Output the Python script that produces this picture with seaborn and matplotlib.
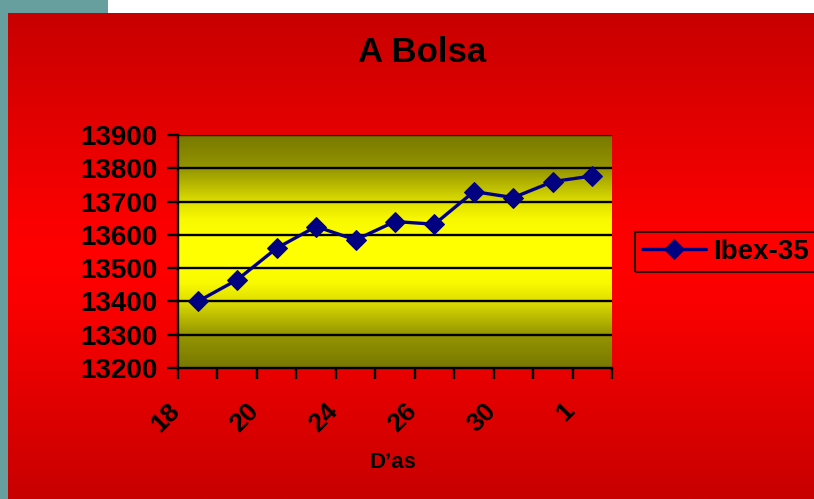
import numpy as np
import pandas as pd
import matplotlib
matplotlib.use("Agg")
import matplotlib.pyplot as plt
import matplotlib.transforms as mtransforms
from matplotlib.colors import LinearSegmentedColormap
from matplotlib.patches import Rectangle
import seaborn as sns

# datos
dias = ['18', '19', '20', '23', '24', '25', '26', '27', '30', '31', '1']
ibex = [13400, 13465, 13560, 13625, 13585, 13640, 13632, 13730, 13712, 13760, 13777]
etiquetas_visibles = ['18', '20', '24', '26', '30', '1']
yticks = [13200, 13300, 13400, 13500, 13600, 13700, 13800, 13900]

sns.set_style("white")
plt.rcParams['font.family'] = ['Liberation Sans', 'DejaVu Sans']
plt.rcParams['font.weight'] = 'bold'
plt.rcParams['text.color'] = 'black'
plt.rcParams['xtick.color'] = 'black'
plt.rcParams['ytick.color'] = 'black'
plt.rcParams['xtick.bottom'] = True
plt.rcParams['ytick.left'] = True

W, H = 814, 499
fig = plt.figure(figsize=(W / 100, H / 100), dpi=100)
fig.patch.set_facecolor('white')

# fondo: franja verde azulada + degradado rojo
bg = fig.add_axes([0, 0, 1, 1])
bg.set_xlim(0, W)
bg.set_ylim(H, 0)
bg.axis('off')
teal = '#679f9f'
bg.add_patch(Rectangle((0, 0), 108, 13, color=teal, lw=0))
bg.add_patch(Rectangle((0, 0), 8, H, color=teal, lw=0))

rojo = LinearSegmentedColormap.from_list(
    'rojo', [(0, '#c80000'), (0.42, '#fa0000'), (0.5, '#ff0000'),
             (0.6, '#fa0000'), (1, '#c80000')])
grad = np.linspace(0, 1, 256).reshape(-1, 1)
bg.imshow(grad, cmap=rojo, extent=[8, W, H, 13], aspect='auto', origin='upper')

# area del grafico
ax = fig.add_axes([178 / W, (H - 368) / H, 434 / W, 233 / H])
ax.patch.set_alpha(0)
amarillo = LinearSegmentedColormap.from_list(
    'amarillo', [(0, '#787800'), (0.143, '#959500'), (0.286, '#dede00'),
                 (0.36, '#f8f800'), (0.43, '#ffff00'), (0.57, '#ffff00'),
                 (0.64, '#f8f800'), (0.714, '#dede00'), (0.857, '#959500'),
                 (1, '#787800')])
ax.imshow(grad, cmap=amarillo, extent=[-0.5, len(dias) - 0.5, 13200, 13900],
          aspect='auto', origin='upper', zorder=0)

df = pd.DataFrame({'pos': np.arange(len(dias)), 'valor': ibex})
sns.lineplot(data=df, x='pos', y='valor', ax=ax, color='#000080', lw=2.4,
             marker='D', markersize=10, markeredgecolor='#000080',
             label='Ibex-35', zorder=3)

ax.set_xlim(-0.5, len(dias) - 0.5)
ax.set_ylim(13200, 13900)
ax.set_yticks(yticks)
ax.set_yticklabels([str(v) for v in yticks], fontsize=20, fontweight='bold')
for v in yticks[1:]:
    ax.axhline(v, color='black', lw=1.7, zorder=1)

# marcas entre categorias, etiquetas cada dos dias
ax.set_xticks(np.arange(-0.5, len(dias)), minor=True)
ax.set_xticks(np.arange(0, len(dias), 2))
ax.tick_params(axis='x', which='major', length=0, pad=22)
ax.tick_params(axis='x', which='minor', bottom=True, length=8, width=1.7,
               color='black', direction='out')
ax.tick_params(axis='y', length=8, width=1.7, color='black', direction='out',
               pad=7, left=True, labelcolor='black')
ax.set_xticklabels(etiquetas_visibles, rotation=45, ha='right', va='top',
                   fontsize=19, fontweight='bold')
# desplazar etiquetas a la izquierda (despues de tick_params)
offset = mtransforms.ScaledTranslation(-13 / 100, 0, fig.dpi_scale_trans)
for lab in ax.get_xticklabels():
    lab.set_transform(lab.get_transform() + offset)
ax.set_xlabel('')
ax.set_ylabel('')

for s in ['top', 'right']:
    ax.spines[s].set_visible(False)
for s in ['left', 'bottom']:
    ax.spines[s].set_color('black')
    ax.spines[s].set_linewidth(1.7)
    ax.spines[s].set_zorder(4)

fig.text(422 / W, 1 - 53 / H, 'A Bolsa', ha='center', va='center',
         fontsize=25, fontweight='bold', color='black')
fig.text(393 / W, 1 - 462 / H, 'D\u2019as', ha='center', va='center',
         fontsize=16, fontweight='bold', color='black')

leg = ax.legend(loc='center left', bbox_to_anchor=(635 / W, 1 - 252 / H),
                bbox_transform=fig.transFigure, frameon=True, fancybox=False,
                prop={'size': 20, 'weight': 'bold'}, handlelength=2.3,
                borderpad=0.25, handletextpad=0.25, borderaxespad=0)
leg.get_frame().set_edgecolor('black')
leg.get_frame().set_facecolor('none')
leg.get_frame().set_linewidth(1.5)
for t in leg.get_texts():
    t.set_color('black')

fig.savefig('out.png', dpi=100)
